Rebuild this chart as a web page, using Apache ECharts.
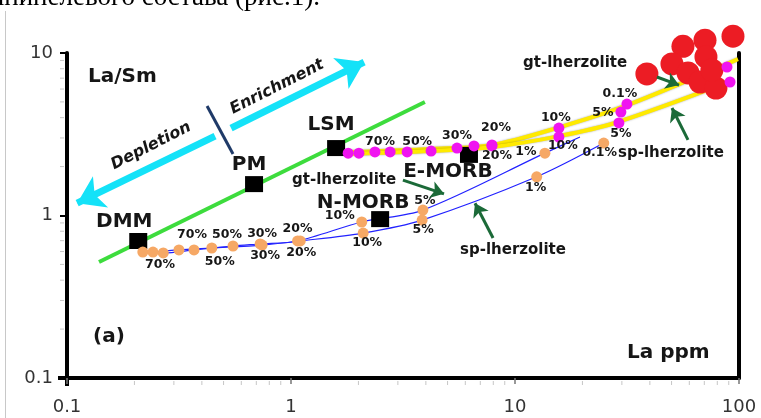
<!DOCTYPE html>
<html>
<head>
<meta charset="utf-8">
<script src="https://cdn.jsdelivr.net/npm/echarts@6/dist/echarts.min.js"></script>
<style>
  html, body { margin: 0; padding: 0; background: #fff; }
  #chart { width: 761px; height: 418px; }
</style>
</head>
<body>
<div id="chart"></div>
<script>
// La (ppm) against La/Sm on log–log axes: mantle reservoirs, mixing line
// and batch-melting trends of garnet / spinel lherzolite sources.

const xTickLabels = ['0.1', '1', '10', '100'];
const yTickLabels = ['0.1', '1', '10'];

// reservoirs
const reservoirNames = ['DMM', 'PM', 'LSM', 'E-MORB', 'N-MORB'];
const reservoirLa = [0.208, 0.684, 1.59, 6.23, 2.50];
const reservoirLaSm = [0.697, 1.56, 2.60, 2.36, 0.95];

// depletion–enrichment trend through DMM, PM and LSM
const mixingLa = [0.139, 3.96];
const mixingLaSm = [0.518, 4.99];

// melts of a DMM source, garnet lherzolite
const gtDmmLa = [0.218, 0.269, 0.369, 0.551, 0.728, 1.07, 2.07, 3.88, 13.6];
const gtDmmLaSm = [0.596, 0.588, 0.614, 0.649, 0.668, 0.697, 0.912, 1.08, 2.42];
const gtDmmTags = ['', '', '70%', '50%', '30%', '20%', '10%', '5%', '1%'];
const gtDmmEndLa = 19.5;
const gtDmmEndLaSm = 3.04;

// melts of a DMM source, spinel lherzolite
const spDmmLa = [0.242, 0.316, 0.443, 0.743, 1.10, 2.10, 3.85, 12.5, 24.9];
const spDmmLaSm = [0.596, 0.614, 0.631, 0.658, 0.697, 0.780, 0.937, 1.73, 2.79];
const spDmmTags = ['70%', '', '50%', '30%', '20%', '10%', '5%', '1%', '0.1%'];

// melts of an LSM source, garnet lherzolite
const gtLsmLa = [1.80, 2.37, 3.30, 5.51, 7.89, 15.7, 29.7, 31.6];
const gtLsmLaSm = [2.42, 2.46, 2.46, 2.60, 2.72, 3.45, 4.33, 4.85];
const gtLsmTags = ['', '70%', '50%', '30%', '20%', '10%', '5%', '0.1%'];
const gtLsmCurveLa = [1.80, 4.18, 7.98, 15.9, 31.0, 99];
const gtLsmCurveLaSm = [2.46, 2.57, 2.72, 3.50, 4.72, 9.18];

// melts of an LSM source, spinel lherzolite
const spLsmLa = [2.01, 2.77, 4.22, 6.56, 7.89, 15.7, 29.1];
const spLsmLaSm = [2.42, 2.46, 2.49, 2.68, 2.68, 3.04, 3.71];
const spLsmTags = ['', '', '', '', '20%', '10%', '5%'];
const spLsmCurveLa = [1.80, 4.18, 7.98, 15.9, 27.9, 70.5];
const spLsmCurveLaSm = [2.39, 2.49, 2.64, 3.09, 3.71, 5.84];

// two further LSM-type points near the right frame
const lsmExtraLa = [88.4, 91.2];
const lsmExtraLaSm = [8.20, 6.63];

// basalt samples
const sampleLa = [38.8, 56.2, 70.5, 94.0, 50.2, 59.2, 71.2, 67.0, 78.9, 75.7];
const sampleLaSm = [7.43, 11.0, 12.0, 12.7, 8.56, 7.54, 9.45, 6.63, 6.09, 7.86];

// --- label placement (style only) ---
const gtDmmTagOffset = [null, null, [-2, -15], [-6, -11], [2, -10], [0, -12], [-22, -6], [2, -9], [-19, -1]];
const spDmmTagOffset = [[7, 13], null, [8, 14], [3, 11], [1, 12], [4, 10], [1, 10], [-1, 11], [-4, 10]];
const gtLsmTagOffset = [null, [5, -10], [10, -10], [0, -12], [4, -17], [-3, -10], [-18, 1], [-7, -10]];
const spLsmTagOffset = [null, null, null, null, [5, 10], [4, 9], [2, 11]];
const reservoirTagOffset = [[-14, -19], [-5, -19], [-5, -23], [-21, 17], [-17, -16]];

const SANS = '"DejaVu Sans", "Liberation Sans", sans-serif';
const INK = '#161616';

function pairs(xs, ys) { return xs.map((x, i) => [x, ys[i]]); }

function tagged(xs, ys, tags, offsets) {
  return xs.map((x, i) => ({
    value: [x, ys[i]],
    label: tags[i]
      ? { show: true, formatter: tags[i], offset: offsets[i] || [0, 0] }
      : { show: false }
  }));
}

function tickText(v) {
  const i = Math.round(Math.log10(v)) + 1;
  return xTickLabels[i] !== undefined ? xTickLabels[i] : String(v);
}
function yTickText(v) {
  const i = Math.round(Math.log10(v)) + 1;
  return yTickLabels[i] !== undefined ? yTickLabels[i] : String(v);
}

const pctLabel = {
  position: 'inside',
  color: INK,
  opacity: 1,
  fontFamily: SANS,
  fontWeight: 'bold',
  fontSize: 12.5,
  textBorderWidth: 0
};

const chart = echarts.init(document.getElementById('chart'), null, { renderer: 'canvas' });

const option = {
  animation: false,
  backgroundColor: '#ffffff',
  grid: { left: 67, right: 22, top: 53, bottom: 40, containLabel: false, outerBoundsMode: 'none' },
  xAxis: {
    type: 'log', logBase: 10, min: 0.1, max: 100,
    axisLine: { show: true, onZero: false, lineStyle: { color: '#000', width: 4 } },
    axisTick: { show: true, length: 6, lineStyle: { color: '#777', width: 1.5 } },
    axisLabel: { formatter: tickText, fontFamily: SANS, fontSize: 18, color: '#333', margin: 20 },
    splitLine: { show: false }
  },
  yAxis: [{
    type: 'log', logBase: 10, min: 0.1, max: 10,
    axisLine: { show: true, onZero: false, lineStyle: { color: '#000', width: 4 } },
    axisTick: { show: true, length: 7, lineStyle: { color: '#000', width: 2 } },
    axisLabel: { formatter: yTickText, fontFamily: SANS, fontSize: 18, color: '#333', margin: 14 },
    splitLine: { show: false }
  }, {
    type: 'log', logBase: 10, min: 0.1, max: 10, position: 'right',
    axisLine: { show: true, onZero: false, lineStyle: { color: '#000', width: 4 } },
    axisTick: { show: false }, axisLabel: { show: false }, splitLine: { show: false }
  }],
  series: [
    {
      name: 'trend', type: 'line', z: 2, silent: true, symbol: 'none',
      data: pairs(mixingLa, mixingLaSm),
      lineStyle: { color: '#3ddc3d', width: 4 }
    },
    {
      name: 'depletion-enrichment', type: 'lines', coordinateSystem: 'cartesian2d', z: 2, silent: true,
      symbol: ['none', 'arrow'], symbolSize: 26,
      lineStyle: { color: '#14e2f8', width: 7, opacity: 1, curveness: 0 },
      data: [
        { coords: [[0.540, 3.45], [2.12, 8.80]] },
        { coords: [[0.458, 3.08], [0.111, 1.19]] }
      ]
    },
    {
      name: 'divider', type: 'lines', coordinateSystem: 'cartesian2d', z: 2, silent: true,
      lineStyle: { color: '#1f3a68', width: 3, opacity: 1 },
      data: [{ coords: [[0.422, 4.72], [0.551, 2.39]] }]
    },
    {
      name: 'gt DMM curve', type: 'line', z: 3, silent: true, symbol: 'none', smooth: 0.3,
      data: pairs(gtDmmLa, gtDmmLaSm).concat([[gtDmmEndLa, gtDmmEndLaSm]]),
      lineStyle: { color: '#2222ff', width: 1.2 }
    },
    {
      name: 'sp DMM curve', type: 'line', z: 3, silent: true, symbol: 'none', smooth: 0.3,
      data: pairs(spDmmLa, spDmmLaSm),
      lineStyle: { color: '#2222ff', width: 1.2 }
    },
    {
      name: 'gt LSM curve', type: 'line', z: 3, silent: true, symbol: 'none', smooth: 0.3,
      data: pairs(gtLsmCurveLa, gtLsmCurveLaSm),
      lineStyle: { color: '#ffea00', width: 4, shadowColor: 'rgba(0,0,0,0.35)', shadowBlur: 2 }
    },
    {
      name: 'sp LSM curve', type: 'line', z: 3, silent: true, symbol: 'none', smooth: 0.3,
      data: pairs(spLsmCurveLa, spLsmCurveLaSm),
      lineStyle: { color: '#ffea00', width: 4, shadowColor: 'rgba(0,0,0,0.35)', shadowBlur: 2 }
    },
    {
      name: 'reservoirs', type: 'scatter', z: 4, silent: true,
      symbol: 'rect', symbolSize: [18, 16],
      itemStyle: { color: '#000', opacity: 1 },
      label: { position: 'inside', color: INK, opacity: 1, fontFamily: SANS, fontWeight: 'bold', fontSize: 20, textBorderWidth: 0 },
      data: reservoirLa.map((x, i) => ({
        value: [x, reservoirLaSm[i]],
        label: { show: true, formatter: reservoirNames[i], offset: reservoirTagOffset[i] }
      }))
    },
    {
      name: 'samples', type: 'scatter', z: 5, silent: true, clip: false,
      symbolSize: 23, itemStyle: { color: '#ec1c24', opacity: 1 },
      data: pairs(sampleLa, sampleLaSm)
    },
    {
      name: 'gt DMM melts', type: 'scatter', z: 6, silent: true,
      symbolSize: 11, itemStyle: { color: '#f6a865', opacity: 1 }, label: pctLabel,
      data: tagged(gtDmmLa, gtDmmLaSm, gtDmmTags, gtDmmTagOffset)
    },
    {
      name: 'sp DMM melts', type: 'scatter', z: 6, silent: true,
      symbolSize: 11, itemStyle: { color: '#f6a865', opacity: 1 }, label: pctLabel,
      data: tagged(spDmmLa, spDmmLaSm, spDmmTags, spDmmTagOffset)
    },
    {
      name: 'gt LSM melts', type: 'scatter', z: 6, silent: true,
      symbolSize: 11, itemStyle: { color: '#f014f0', opacity: 1 }, label: pctLabel,
      data: tagged(gtLsmLa, gtLsmLaSm, gtLsmTags, gtLsmTagOffset)
    },
    {
      name: 'sp LSM melts', type: 'scatter', z: 6, silent: true,
      symbolSize: 11, itemStyle: { color: '#f014f0', opacity: 1 }, label: pctLabel,
      data: tagged(spLsmLa, spLsmLaSm, spLsmTags, spLsmTagOffset)
    },
    {
      name: 'LSM extra', type: 'scatter', z: 6, silent: true,
      symbolSize: 11, itemStyle: { color: '#f014f0', opacity: 1 },
      data: pairs(lsmExtraLa, lsmExtraLaSm)
    },
    {
      name: 'pointers', type: 'lines', coordinateSystem: 'cartesian2d', z: 7, silent: true,
      symbol: ['none', 'arrow'], symbolSize: 13,
      lineStyle: { color: '#1b6a38', width: 3, opacity: 1, curveness: 0 },
      data: [
        { coords: [[3.16, 1.65], [4.82, 1.36]] },
        { coords: [[7.98, 0.727], [6.63, 1.19]] },
        { coords: [[43.0, 7.12], [54.0, 6.35]] },
        { coords: [[59.2, 2.92], [50.2, 4.59]] }
      ]
    }
  ]
};

chart.setOption(option);

// minor log ticks, axis cross and free text, placed through the axes' own scales
const X = v => chart.convertToPixel({ xAxisIndex: 0 }, v);
const Y = v => chart.convertToPixel({ yAxisIndex: 0 }, v);
const x0 = X(0.1), y0 = Y(0.1);
const g = [];

[0.1, 1, 10].forEach(d => {
  for (let k = 2; k <= 9; k++) {
    const px = X(k * d);
    g.push({ type: 'line', silent: true, shape: { x1: px, y1: y0 + 3, x2: px, y2: y0 + 7 },
      style: { stroke: '#c6c6c6', lineWidth: 1 } });
  }
});
[0.1, 1].forEach(d => {
  for (let k = 2; k <= 9; k++) {
    const py = Y(k * d);
    g.push({ type: 'line', silent: true, shape: { x1: x0 - 3, y1: py, x2: x0 - 7, y2: py },
      style: { stroke: '#c6c6c6', lineWidth: 1 } });
  }
});
g.push({ type: 'line', silent: true, shape: { x1: x0 - 9, y1: y0, x2: x0, y2: y0 }, style: { stroke: '#000', lineWidth: 4 } });
g.push({ type: 'line', silent: true, shape: { x1: x0, y1: y0, x2: x0, y2: y0 + 8 }, style: { stroke: '#000', lineWidth: 4 } });

// page margin rule and the caption line above the figure
g.push({ type: 'line', silent: true, shape: { x1: 5.5, y1: 11, x2: 5.5, y2: 418 }, style: { stroke: '#c8c8c8', lineWidth: 1 } });
g.push({ type: 'text', silent: true, x: 320, y: 11,
  style: { text: 'шпинелевого состава (рис.1).', font: '27px "Liberation Serif", serif', fill: '#000', align: 'right', verticalAlign: 'bottom' } });

function txt(text, x, y, size, extra) {
  return Object.assign({
    type: 'text', silent: true, x: x, y: y, z: 100,
    style: { text: text, font: 'bold ' + size + 'px ' + SANS, fill: INK, align: 'left', verticalAlign: 'middle' }
  }, extra || {});
}
g.push(txt('La/Sm', 88, 77, 20));
g.push(txt('La ppm', 627, 353, 20));
g.push(txt('(a)', 93, 337, 20));
g.push(txt('gt-lherzolite', 292, 180, 15));
g.push(txt('sp-lherzolite', 460, 250, 15));
g.push(txt('gt-lherzolite', 523, 63, 15));
g.push(txt('sp-lherzolite', 618, 153, 15));

const tilt = 0.47;
g.push({ type: 'text', silent: true, x: 151, y: 146, rotation: tilt, z: 100,
  style: { text: 'Depletion', font: 'italic bold 16px ' + SANS, fill: INK, align: 'center', verticalAlign: 'middle' } });
g.push({ type: 'text', silent: true, x: 277, y: 87, rotation: tilt, z: 100,
  style: { text: 'Enrichment', font: 'italic bold 16px ' + SANS, fill: INK, align: 'center', verticalAlign: 'middle' } });

chart.setOption({ graphic: { elements: g } });
</script>
</body>
</html>
